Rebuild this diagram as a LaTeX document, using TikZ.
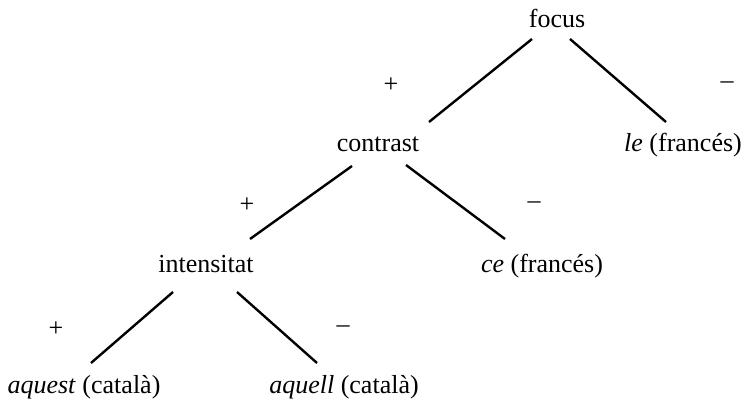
\documentclass[tikz,border=0pt]{standalone}
\usepackage{fontspec}
\setmainfont{Liberation Serif}
\begin{document}
\begin{tikzpicture}[x=1pt,y=-1pt,
  lbl/.style={anchor=base,inner sep=0pt,font=\fontsize{26}{30}\selectfont},
  sgn/.style={anchor=center,inner sep=0pt,font=\fontsize{26}{30}\selectfont},
  edge/.style={line width=2.4pt}]
\useasboundingbox (0,0) rectangle (747,403);
% nodes
\node[lbl] (focus) at (557,28) {focus};
\node[lbl] (contrast) at (378,152) {contrast};
\node[lbl] (le) at (683,152) {\textit{le} (francés)};
\node[lbl] (intensitat) at (206,273) {intensitat};
\node[lbl] (ce) at (542,273) {\textit{ce} (francés)};
\node[lbl] (aquest) at (84,393) {\textit{aquest} (català)};
\node[lbl] (aquell) at (344,393) {\textit{aquell} (català)};
% signs
\node[sgn] (p1) at (391,85) {+};
\node[sgn] (m1) at (727,85) {–};
\node[sgn] (p2) at (247,205) {+};
\node[sgn] (m2) at (534,205) {–};
\node[sgn] (p3) at (56,329) {+};
\node[sgn] (m3) at (343,329) {–};
% connector ends
\coordinate (fL) at (532,39);  \coordinate (cT) at (429,122);
\coordinate (fR) at (570,39);  \coordinate (lT) at (666,122);
\coordinate (cL) at (352,166); \coordinate (iT) at (250,239);
\coordinate (cR) at (406,165); \coordinate (ceT) at (505,239);
\coordinate (iL) at (173,292); \coordinate (aqT) at (91,363);
\coordinate (iR) at (237,292); \coordinate (alT) at (317,363);
\draw[edge] (fL) -- (cT);
\draw[edge] (fR) -- (lT);
\draw[edge] (cL) -- (iT);
\draw[edge] (cR) -- (ceT);
\draw[edge] (iL) -- (aqT);
\draw[edge] (iR) -- (alT);
\end{tikzpicture}
\end{document}
